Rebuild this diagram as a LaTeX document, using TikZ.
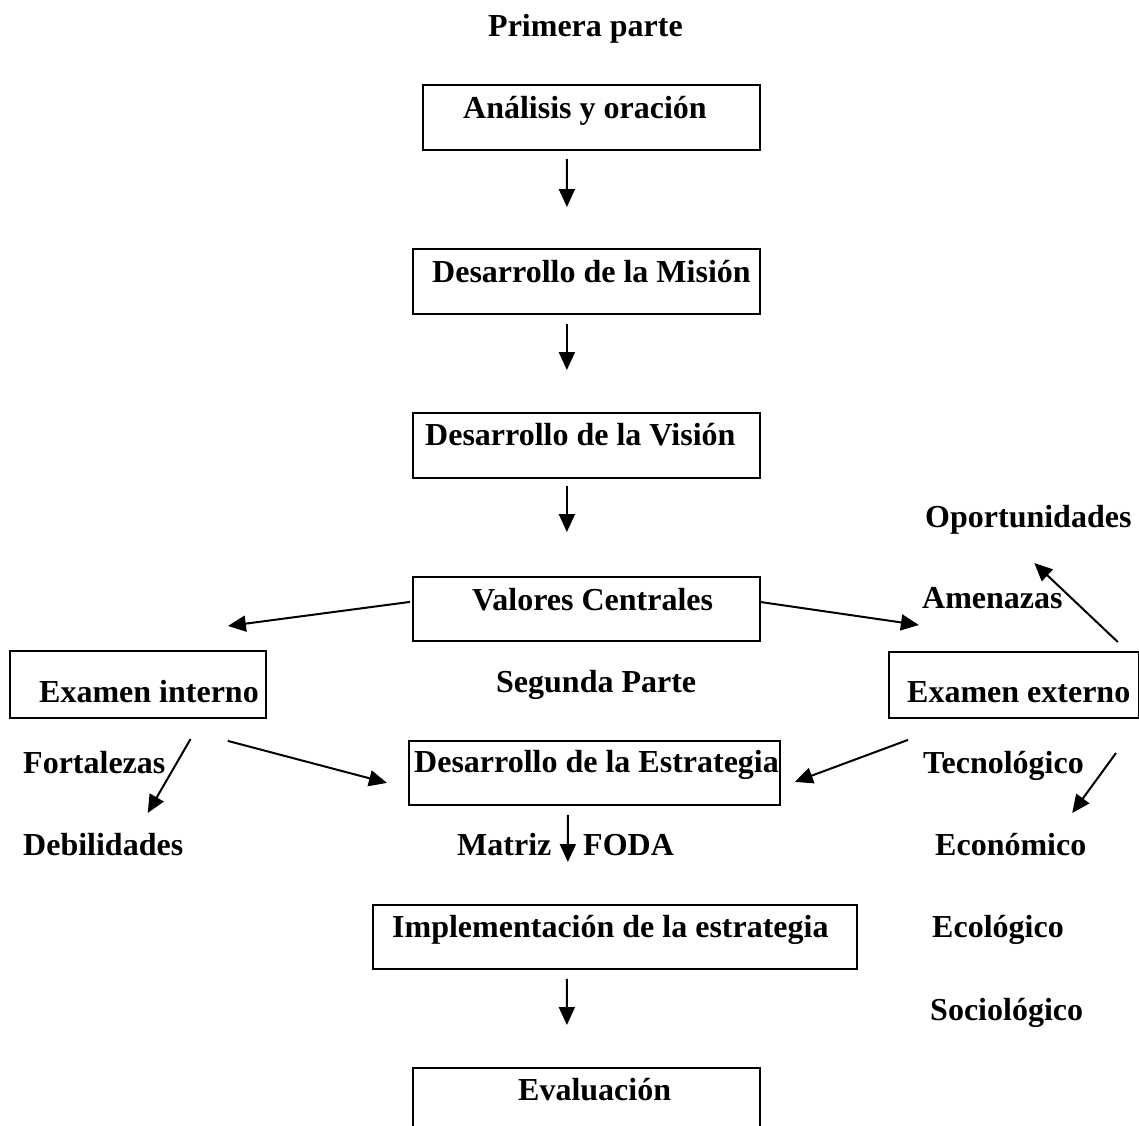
\documentclass[tikz,border=0pt]{standalone}
\usepackage{fontspec}
\setmainfont{Liberation Serif}
\usetikzlibrary{arrows.meta,calc}
\begin{document}
\begin{tikzpicture}[x=1bp,y=-1bp,
  box/.style={draw,line width=1.8bp,inner sep=0pt,anchor=north west},
  txt/.style={inner sep=0pt,anchor=base west,font=\fontsize{32bp}{38bp}\selectfont\bfseries},
  arr/.style={line width=2bp,-{Triangle[length=18bp,width=16bp]}}]
\useasboundingbox (0,0) rectangle (1139,1126);

% boxes (left/top corner, size)
\node[box,minimum width=337bp,minimum height=65bp] (b1) at (422,84) {};
\node[box,minimum width=347bp,minimum height=65bp] (b2) at (412,248) {};
\node[box,minimum width=347bp,minimum height=65bp] (b3) at (412,412) {};
\node[box,minimum width=347bp,minimum height=64bp] (b4) at (412,576) {};
\node[box,minimum width=256bp,minimum height=67bp] (bint) at (9,650) {};
\node[box,minimum width=250bp,minimum height=66bp] (bext) at (888,651) {};
\node[box,minimum width=371bp,minimum height=64bp] (b5) at (408,740) {};
\node[box,minimum width=484bp,minimum height=64bp] (b6) at (372,904) {};
\node[box,minimum width=347bp,minimum height=70bp] (b7) at (412,1067) {};

% texts
\node[txt] (tprim) at (488,36) {Primera parte};
\node[txt] (t1) at (463,118) {Análisis y oración};
\node[txt] (t2) at (432,282) {Desarrollo de la Misión};
\node[txt] (t3) at (425,445) {Desarrollo de la Visión};
\node[txt] (t4) at (472,610) {Valores Centrales};
\node[txt] (oport) at (925,527) {Oportunidades};
\node[txt] (amen) at (922,608) {Amenazas};
\node[txt] (tint) at (39,702) {Examen interno};
\node[txt] (tseg) at (496,692) {Segunda Parte};
\node[txt] (text) at (907,702) {Examen externo};
\node[txt] (fort) at (23,773) {Fortalezas};
\node[txt] (t5) at (414,772) {Desarrollo de la Estrategia};
\node[txt] (tecno) at (923,773) {Tecnológico};
\node[txt] (debil) at (23,855) {Debilidades};
\node[txt] (matriz) at (457,855) {Matriz};
\node[txt] (foda) at (583,855) {FODA};
\node[txt] (econ) at (935,855) {Económico};
\node[txt] (t6) at (392,937) {Implementación de la estrategia};
\node[txt] (ecol) at (932,937) {Ecológico};
\node[txt] (socio) at (930,1020) {Sociológico};
\node[txt] (t7) at (518,1100) {Evaluación};

% main sequence
\draw[arr] ($(b1.south)+(-24.5,8)$) -- ($(b2.north)+(-19.5,-41)$);
\draw[arr] ($(b2.south)+(-19.5,9)$) -- ($(b3.north)+(-19.5,-42)$);
\draw[arr] ($(b3.south)+(-19.5,7)$) -- ($(b4.north)+(-19.5,-44)$);
\draw[arr] ($(b5.south)+(-26.5,9)$) -- ($(b6.north)+(-47,-42)$);
\draw[arr] ($(b6.south)+(-48,9)$) -- ($(b7.north)+(-19.5,-42)$);

% branches
\draw[arr] ($(b4.west)+(-2,-7)$) -- ($(bint.north)+(90,-24)$);
\draw[arr] ($(b4.east)+(-1,-7)$) -- ($(bext.north)+(-95,-26)$);
\draw[arr] ($(bext.north east)+(-22,-9)$) -- ($(oport.base)+(6,36)$);
\draw[arr] ($(fort.base east)+(25,-34)$) -- ($(debil.base)+(44.5,-42)$);
\draw[arr] ($(bint.east)+(-39,56.5)$) -- ($(b5.west)+(-21,10)$);
\draw[arr] ($(bext.west)+(20,55)$) -- ($(b5.east)+(14,9)$);
\draw[arr] ($(tecno.base east)+(32,-20)$) -- ($(econ.base)+(61.5,-42)$);
\end{tikzpicture}
\end{document}
